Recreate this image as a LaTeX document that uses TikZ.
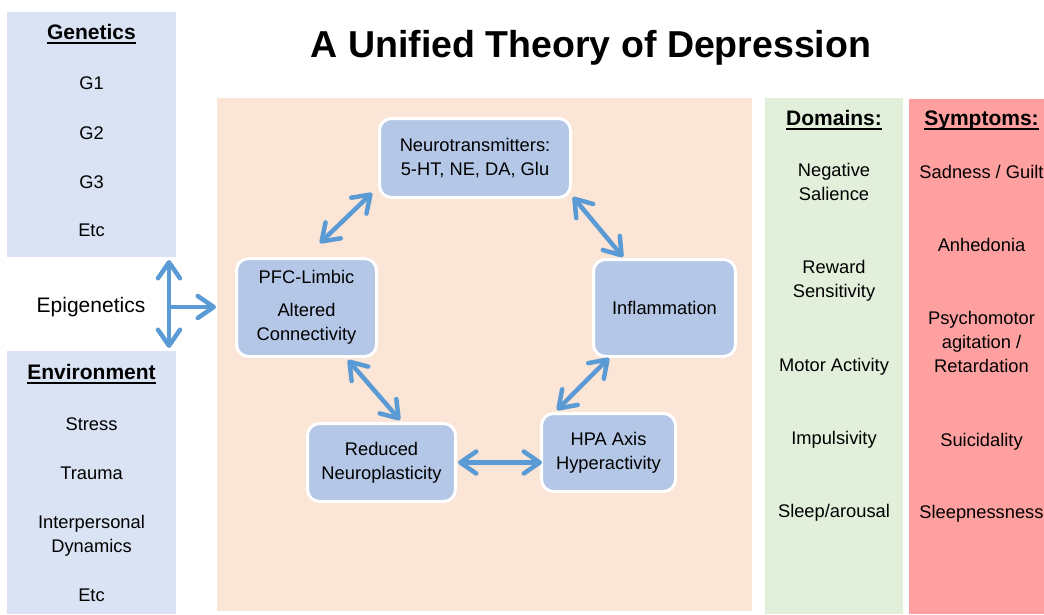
\documentclass[tikz,border=0pt]{standalone}
\usepackage{fontspec}
\setmainfont{Liberation Sans}
\usetikzlibrary{arrows.meta,calc}
\definecolor{genblue}{HTML}{DAE3F3}
\definecolor{peach}{HTML}{FBE5D6}
\definecolor{dgreen}{HTML}{E2EFDA}
\definecolor{sred}{HTML}{FFA0A0}
\definecolor{nodefill}{HTML}{B4C7E7}
\definecolor{arrowblue}{HTML}{5B9BD5}
\newcommand{\hul}[1]{\setbox0=\hbox{#1}\rlap{\rule[-4.5pt]{\wd0}{1.8pt}}\box0}
\begin{document}
\begin{tikzpicture}[x=1pt,y=-1pt,
  panel/.style={inner sep=0pt, outer sep=0pt, anchor=north west, draw=none},
  box/.style={draw=white, line width=3pt, fill=nodefill, rounded corners=12pt, align=center, inner sep=2pt, font=\fontsize{18.3}{24}\selectfont, text=black},
  tipb/.tip={Straight Barb[length=16pt,width=22pt,round]},
  arr/.style={draw=arrowblue, line width=4.5pt, tipb-tipb},
  arrone/.style={draw=arrowblue, line width=4.5pt, -tipb},
  txt/.style={anchor=base, inner sep=0pt, font=\fontsize{18.3}{22}\selectfont},
  hdr/.style={anchor=base, inner sep=0pt, font=\fontsize{21}{25}\selectfont\bfseries}
]
\useasboundingbox (0,0) rectangle (1044,614);
\clip (0,0) rectangle (1044,614);
\fill[white] (0,0) rectangle (1044,614);

% panels
\node[panel, fill=genblue, minimum width=169pt, minimum height=245pt] (gen) at (7,12) {};
\node[panel, fill=genblue, minimum width=169pt, minimum height=263pt] (env) at (7,351) {};
\node[panel, fill=peach, minimum width=535pt, minimum height=513pt] (ctx) at (217,98) {};
\node[panel, fill=dgreen, minimum width=138pt, minimum height=516pt] (dom) at (765,98) {};
\node[panel, fill=sred, minimum width=135pt, minimum height=515pt] (sym) at (909,99) {};

% title
\node[anchor=base, inner sep=0pt, font=\fontsize{37.5}{40}\selectfont\bfseries] (title) at (591,57) {A Unified Theory of Depression};

% left column
\node[hdr] (genh) at (91.5,39.5) {\hul{Genetics}};
\node[txt] (g1) at (91.5,89) {G1};
\node[txt] (g2) at (91.5,139) {G2};
\node[txt] (g3) at (91.5,188) {G3};
\node[txt] (getc) at (91.5,236) {Etc};
\node[txt, font=\fontsize{21}{25}\selectfont] (epi) at (91,312) {Epigenetics};
\node[hdr] (envh) at (91.5,379.5) {\hul{Environment}};
\node[txt] (e1) at (91.5,430) {Stress};
\node[txt] (e2) at (91.5,479) {Trauma};
\node[txt] (e3) at (91.5,528) {Interpersonal};
\node[txt] (e3b) at (91.5,552) {Dynamics};
\node[txt] (eetc) at (91.5,601) {Etc};

% domains
\node[hdr] (domh) at (834,125.5) {\hul{Domains:}};
\node[txt] (d1) at (834,176) {Negative};
\node[txt] (d1b) at (834,200) {Salience};
\node[txt] (d2) at (834,273) {Reward};
\node[txt] (d2b) at (834,297) {Sensitivity};
\node[txt] (d3) at (834,371) {Motor Activity};
\node[txt] (d4) at (834,444) {Impulsivity};
\node[txt] (d5) at (834,517) {Sleep/arousal};

% symptoms
\node[hdr] (symh) at (981.5,125.5) {\hul{Symptoms:}};
\node[txt] (s1) at (981.5,178) {Sadness / Guilt};
\node[txt] (s2) at (981.5,251) {Anhedonia};
\node[txt] (s3) at (981.5,324) {Psychomotor};
\node[txt] (s3b) at (981.5,348) {agitation /};
\node[txt] (s3c) at (981.5,372) {Retardation};
\node[txt] (s4) at (981.5,446) {Suicidality};
\node[txt] (s5) at (981.5,518) {Sleepnessness};

% cycle boxes
\node[box, minimum width=191pt, minimum height=79pt] (nt) at (475,158) {Neurotransmitters:\\5-HT, NE, DA, Glu};
\node[box, minimum width=140pt, minimum height=98pt] (pfc) at (306.5,307.5) {PFC-Limbic\\[9pt]Altered\\Connectivity};
\node[box, minimum width=142pt, minimum height=97pt] (infl) at (664.5,308) {Inflammation};
\node[box, minimum width=148pt, minimum height=78pt] (neuro) at (381.5,462.5) {Reduced\\Neuroplasticity};
\node[box, minimum width=134pt, minimum height=78pt] (hpa) at (608.5,452.5) {HPA Axis\\Hyperactivity};

% cycle arrows
\draw[arr] ([shift={(-6,-6)}]nt.south west) -- ([shift={(-58,-14)}]pfc.north east);
\draw[arr] ([shift={(1,-2)}]nt.south east) -- ([shift={(31,-1)}]infl.north west);
\draw[arr] ([shift={(-30,2)}]pfc.south east) -- ([shift={(18.5,-2)}]neuro.north);
\draw[arr] ([shift={(17,0)}]infl.south west) -- ([shift={(17,-2)}]hpa.north west);
\draw[arr] ([xshift=1pt]neuro.east) -- ([xshift=2pt]neuro.east -| hpa.west);

% epigenetics arrows
\draw[arr] ([shift={(-7,3)}]gen.south east) -- ([shift={(-7,-3)}]env.north east);
\coordinate (epij) at (169,307);
\draw[arrone] (epij) -- ([xshift=-1pt]epij -| ctx.west);
\end{tikzpicture}
\end{document}
